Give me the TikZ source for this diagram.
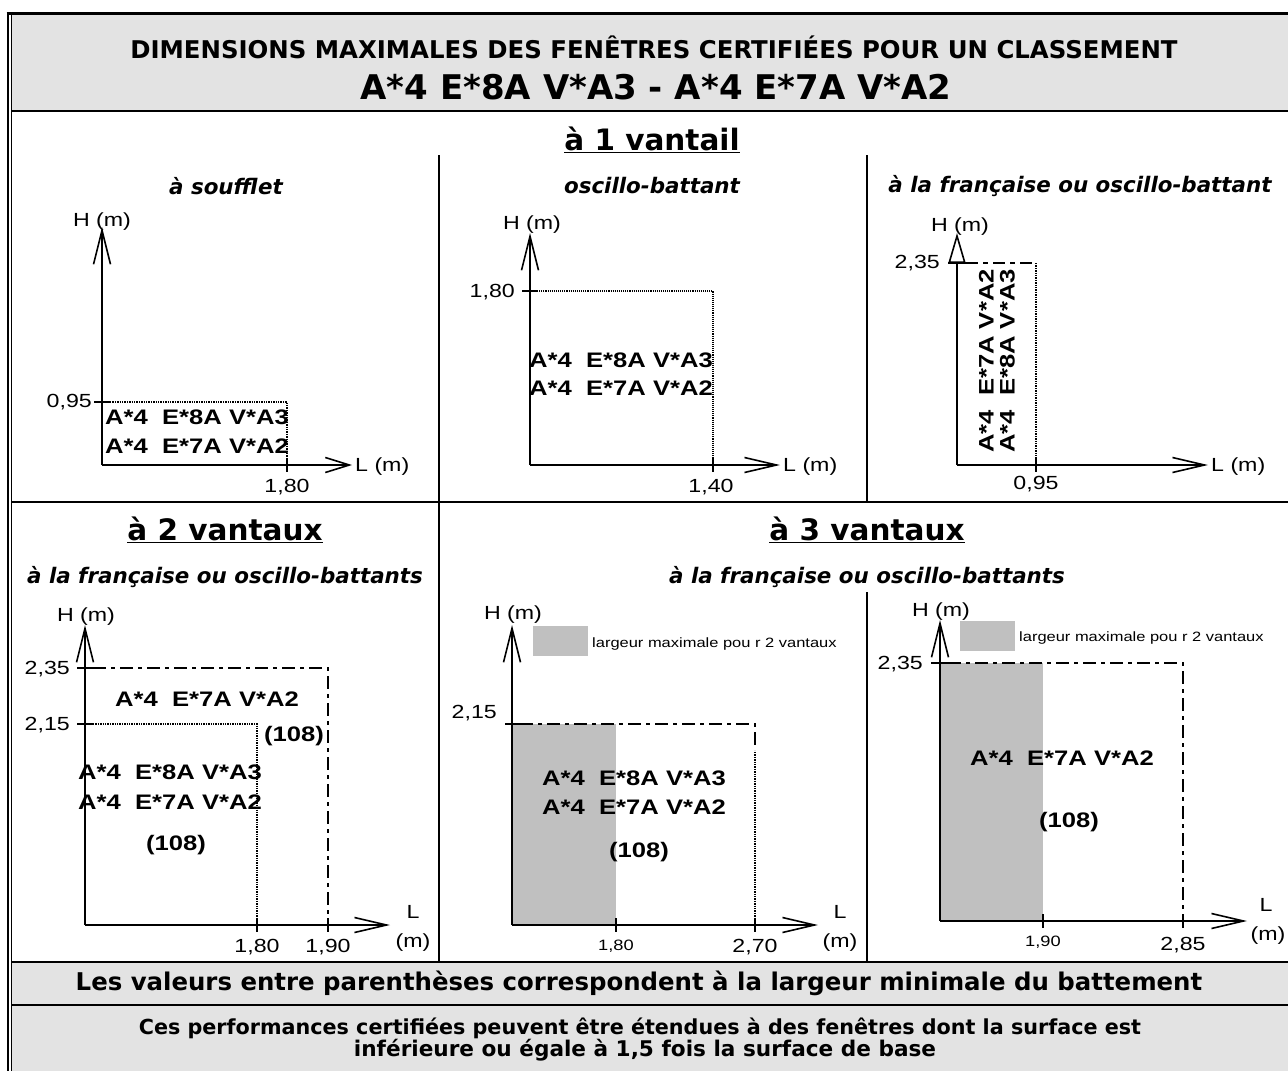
\documentclass[tikz,border=0pt]{standalone}
\usepackage{fontspec}
\usetikzlibrary{arrows.meta}
\newfontfamily\verd{DejaVu Sans}
\newfontfamily\ari{Liberation Sans}[FakeStretch=1.22]
\definecolor{hdr}{HTML}{E3E3E3}
\definecolor{gry}{HTML}{C0C0C0}
\tikzset{
  frame/.style={line width=2pt},
  ax/.style={line width=1.8pt},
  tk/.style={line width=1.5pt},
  dotl/.style={line width=1.4pt, densely dotted},
  ddl/.style={line width=1.5pt, dash pattern=on 13pt off 5pt on 4pt off 5pt},
  yarr/.style={ax, -{Straight Barb[length=34pt,width=17pt,line width=1.6pt]}},
  xarr/.style={ax, -{Straight Barb[length=32pt,width=15pt,line width=1.6pt]}},
  t1/.style={font=\verd\bfseries\fontsize{24.4pt}{29pt}\selectfont, inner sep=0pt},
  t2/.style={font=\verd\bfseries\fontsize{34pt}{40pt}\selectfont, inner sep=0pt},
  hd/.style={font=\verd\bfseries\fontsize{29.5pt}{34pt}\selectfont, inner sep=0pt},
  sub/.style={font=\verd\bfseries\itshape\fontsize{21.4pt}{25pt}\selectfont, inner sep=0pt},
  bot/.style={font=\verd\bfseries\fontsize{21pt}{22.5pt}\selectfont, inner sep=0pt, align=center},
  num/.style={font=\ari\fontsize{19pt}{23pt}\selectfont, inner sep=0pt, text height=13.6pt, text depth=0pt},
  snum/.style={font=\ari\fontsize{15pt}{18pt}\selectfont, inner sep=0pt, text height=10.8pt, text depth=0pt},
  chl/.style={font=\ari\bfseries\fontsize{21pt}{25pt}\selectfont, inner sep=0pt, text height=15pt, text depth=0pt},
  leg/.style={font=\ari\fontsize{13.5pt}{16pt}\selectfont, inner sep=0pt, text height=9.7pt, text depth=0pt},
}
\begin{document}
\begin{tikzpicture}[x=1pt,y=-1pt]
\useasboundingbox (0,0) rectangle (1288,1071);
% ---- backgrounds and frame
\fill[hdr] (11,13) rectangle (1288,111);
\fill[hdr] (11,962) rectangle (1288,1071);
\draw[line width=3pt] (6.5,13.5) -- (1288,13.5);
\draw[line width=1.6pt] (8,12) -- (8,1071);
\draw[line width=1.6pt] (11.5,13) -- (11.5,1071);
\draw[frame] (11,111) -- (1288,111);
\draw[frame] (11,502) -- (1288,502);
\draw[frame] (11,962) -- (1288,962);
\draw[frame] (11,1005) -- (1288,1005);
\draw[frame] (439,155) -- (439,502);
\draw[frame] (867,155) -- (867,502);
\draw[frame] (439,502) -- (439,962);
\draw[frame] (867,592) -- (867,962);
% ---- titles
\node[t1] (title1) at (654,47) {DIMENSIONS MAXIMALES DES FENÊTRES CERTIFIÉES POUR UN CLASSEMENT};
\node[t2] (title2) at (656,87) {A*4 E*8A V*A3 - A*4 E*7A V*A2};
\node[hd] (h1) at (652,140) {\underline{à 1 vantail}};
\node[sub] (s1) at (226,186) {à soufflet};
\node[sub] (s2) at (652,186) {oscillo-battant};
\node[sub] (s3) at (1080,186) {à la française ou oscillo-battant};
\node[hd] (h2) at (225,530) {\underline{à 2 vantaux}};
\node[hd] (h3) at (867,530) {\underline{à 3 vantaux}};
\node[sub] (s4) at (225,577) {à la française ou oscillo-battants};
\node[sub] (s5) at (867,577) {à la française ou oscillo-battants};
\node[bot, font=\verd\bfseries\fontsize{24.4pt}{28pt}\selectfont] (b1) at (639,983) {Les valeurs entre parenthèses correspondent à la largeur minimale du battement};
\node[bot, font=\verd\bfseries\fontsize{20.7pt}{22.5pt}\selectfont] (b2) at (640,1028) {Ces performances certifiées peuvent être étendues à des fenêtres dont la surface est};
\node[bot, font=\verd\bfseries\fontsize{21.6pt}{22.5pt}\selectfont] (b3) at (645,1050) {inférieure ou égale à 1,5 fois la surface de base};

% ===== Chart 1 : à soufflet
\coordinate (o1) at (102,465);
\coordinate (y1) at (102,227);
\coordinate (x1) at (352,465);
\draw[dotl] (110,402) -- (287,402) -- (287,465);
\draw[yarr] (o1) -- (y1);
\draw[ax, -{Straight Barb[length=24pt,width=15pt,line width=1.6pt]}] (o1) -- (x1);
\draw[tk] (94,402) -- (110,402);
\draw[tk] (287,458) -- (287,472);
\node[num] (c1h) at (102,220) {H (m)};
\node[num, anchor=west] (c1l) at (355,465) {L (m)};
\node[num, anchor=east] (c1y) at (92,401) {0,95};
\node[num] (c1x) at (287,486) {1,80};
\node[chl, anchor=west] (c1a) at (105,417) {A*4\ \ E*8A V*A3};
\node[chl, anchor=west] (c1b) at (105,446) {A*4\ \ E*7A V*A2};

% ===== Chart 2 : oscillo-battant
\coordinate (o2) at (530,465);
\coordinate (y2) at (530,233);
\coordinate (x2) at (780,465);
\draw[line width=1.1pt, densely dotted] (537,291) -- (713,291) -- (713,465);
\draw[yarr] (o2) -- (y2);
\draw[xarr] (o2) -- (x2);
\draw[tk] (522,291) -- (537,291);
\draw[tk] (713,458) -- (713,472);
\node[num] (c2h) at (532,223) {H (m)};
\node[num, anchor=west] (c2l) at (783,465) {L (m)};
\node[num, anchor=east] (c2y) at (515,291) {1,80};
\node[num] (c2x) at (711,486) {1,40};
\node[chl] (c2a) at (621,360) {A*4\ \ E*8A V*A3};
\node[chl] (c2b) at (621,388) {A*4\ \ E*7A V*A2};

% ===== Chart 3 : à la française ou oscillo-battant
\coordinate (o3) at (957,465);
\coordinate (y3) at (957,233);
\coordinate (x3) at (1208,465);
\draw[line width=1.5pt, dash pattern=on 12pt off 5pt on 5pt off 5pt] (966,263) -- (1036,263);
\draw[dotl] (1036,263) -- (1036,465);
\draw[ax, -{Triangle[open,length=30pt,width=17pt,line width=1.6pt,fill=white]}] (o3) -- (y3);
\draw[xarr] (o3) -- (x3);
\draw[tk] (948,263) -- (966,263);
\draw[tk] (1036,458) -- (1036,472);
\node[num] (c3h) at (960,225) {H (m)};
\node[num, anchor=west] (c3l) at (1211,465) {L (m)};
\node[num, anchor=east] (c3y) at (940,262) {2,35};
\node[num] (c3x) at (1036,483) {0,95};
\node[chl, rotate=90] (c3a) at (986,361) {A*4\ \ E*7A V*A2};
\node[chl, rotate=90] (c3b) at (1007,361) {A*4\ \ E*8A V*A3};

% ===== Chart 4 : à 2 vantaux
\coordinate (o4) at (85,925);
\coordinate (y4) at (85,625);
\coordinate (x4) at (390,925);
\draw[ddl] (93,668) -- (328,668) -- (328,925);
\draw[dotl, line width=1.8pt] (93,724) -- (257,724) -- (257,925);
\draw[yarr] (o4) -- (y4);
\draw[xarr] (o4) -- (x4);
\draw[tk] (77,668) -- (93,668);
\draw[tk] (77,724) -- (93,724);
\draw[tk] (257,918) -- (257,932);
\draw[tk] (328,918) -- (328,932);
\node[num] (c4h) at (86,615) {H (m)};
\node[num] (c4l) at (413,912) {L};
\node[num] (c4m) at (413,941) {(m)};
\node[num, anchor=east] (c4y1) at (70,668) {2,35};
\node[num, anchor=east] (c4y2) at (70,724) {2,15};
\node[num] (c4x1) at (257,946) {1,80};
\node[num] (c4x2) at (328,946) {1,90};
\node[chl] (c4a) at (207,699) {A*4\ \ E*7A V*A2};
\node[chl] (c4b) at (294,734) {(108)};
\node[chl] (c4c) at (170,772) {A*4\ \ E*8A V*A3};
\node[chl] (c4d) at (170,802) {A*4\ \ E*7A V*A2};
\node[chl] (c4e) at (176,843) {(108)};

% ===== Chart 5 : à 3 vantaux (gauche)
\coordinate (o5) at (512,925);
\coordinate (y5) at (512,625);
\coordinate (x5) at (818,925);
\fill[gry] (512,724) rectangle (616,925);
\fill[gry] (533,626) rectangle (588,656);
\draw[ddl] (520,724) -- (755,724) -- (755,750);
\draw[dotl, line width=1.8pt] (755,752) -- (755,925);
\draw[yarr] (o5) -- (y5);
\draw[xarr] (o5) -- (x5);
\draw[tk] (505,724) -- (520,724);
\draw[tk] (616,918) -- (616,932);
\draw[tk] (755,918) -- (755,932);
\node[num] (c5h) at (513,613) {H (m)};
\node[leg, anchor=west] (c5g) at (592,643) {largeur maximale pou r 2 vantaux};
\node[num] (c5l) at (840,912) {L};
\node[num] (c5m) at (840,941) {(m)};
\node[num, anchor=east] (c5y) at (497,712) {2,15};
\node[snum] (c5x1) at (616,945) {1,80};
\node[num] (c5x2) at (755,946) {2,70};
\node[chl] (c5a) at (634,778) {A*4\ \ E*8A V*A3};
\node[chl] (c5b) at (634,807) {A*4\ \ E*7A V*A2};
\node[chl] (c5c) at (639,850) {(108)};

% ===== Chart 6 : à 3 vantaux (droite)
\coordinate (o6) at (940,921);
\coordinate (y6) at (940,620);
\coordinate (x6) at (1247,921);
\fill[gry] (940,663) rectangle (1043,921);
\fill[gry] (960,621) rectangle (1015,651);
\draw[ddl] (948,663) -- (1183,663) -- (1183,921);
\draw[yarr] (o6) -- (y6);
\draw[xarr] (o6) -- (x6);
\draw[tk] (931,663) -- (948,663);
\draw[tk] (1043,914) -- (1043,928);
\draw[tk] (1183,914) -- (1183,928);
\node[num] (c6h) at (941,610) {H (m)};
\node[leg, anchor=west] (c6g) at (1019,637) {largeur maximale pou r 2 vantaux};
\node[num] (c6l) at (1266,905) {L};
\node[num] (c6m) at (1268,934) {(m)};
\node[num, anchor=east] (c6y) at (923,663) {2,35};
\node[snum] (c6x1) at (1043,941) {1,90};
\node[num] (c6x2) at (1183,944) {2,85};
\node[chl] (c6a) at (1062,758) {A*4\ \ E*7A V*A2};
\node[chl] (c6b) at (1069,820) {(108)};
\end{tikzpicture}
\end{document}
